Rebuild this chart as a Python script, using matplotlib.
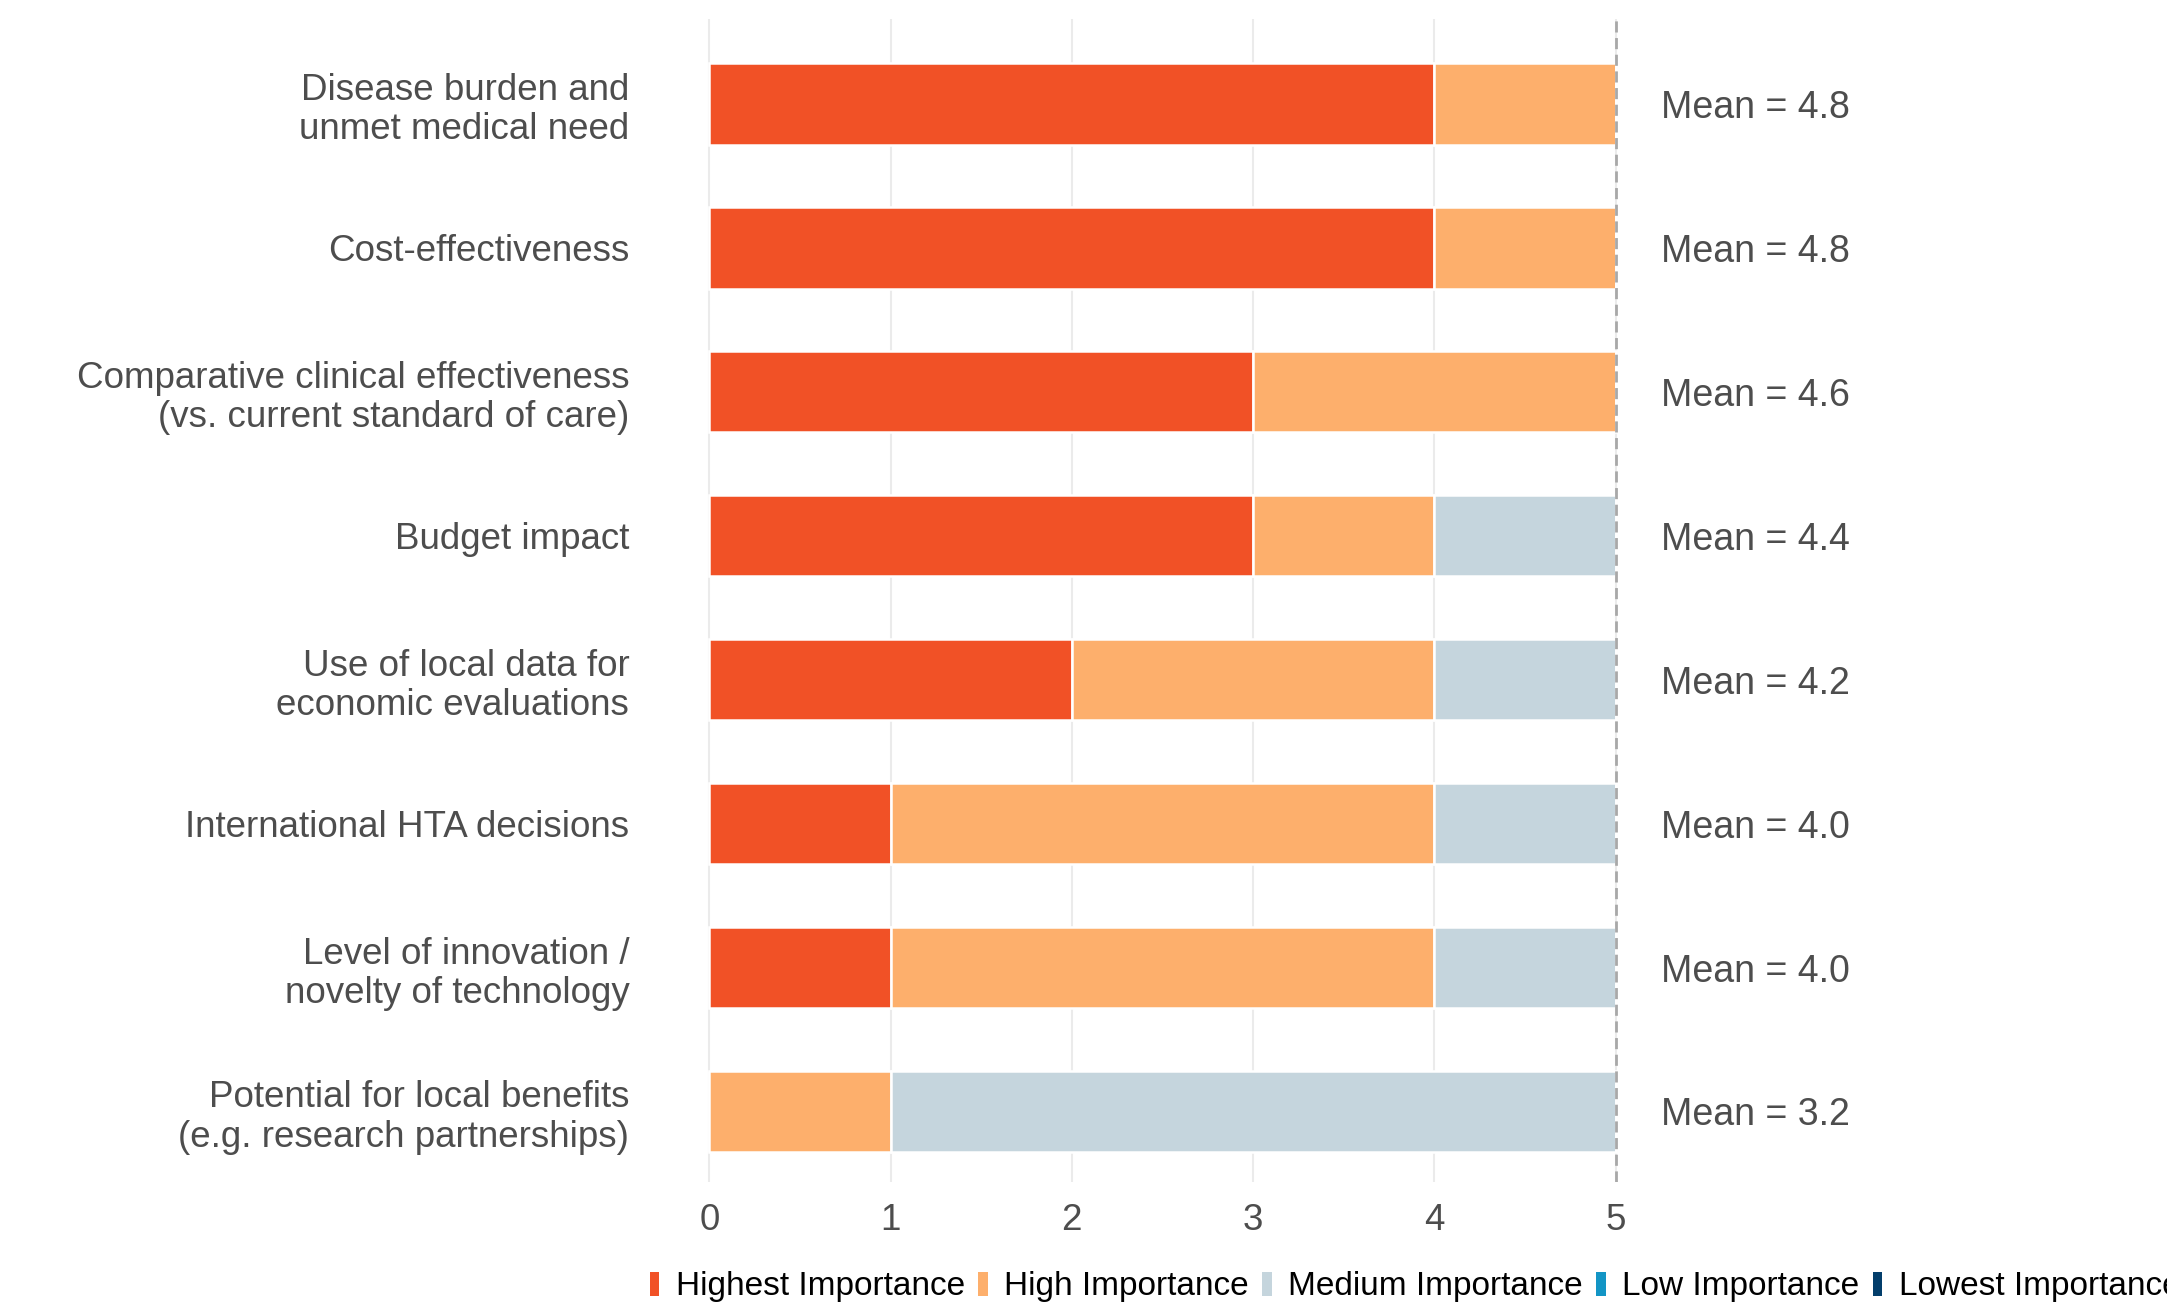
import numpy as np
import matplotlib
matplotlib.use('Agg')
import matplotlib.pyplot as plt
from matplotlib.patches import Rectangle

plt.rcParams['font.family'] = ['Liberation Sans', 'DejaVu Sans']

categories = [
    'Disease burden and\nunmet medical need',
    'Cost-effectiveness',
    'Comparative clinical effectiveness\n(vs. current standard of care)',
    'Budget impact',
    'Use of local data for\neconomic evaluations',
    'International HTA decisions',
    'Level of innovation /\nnovelty of technology',
    'Potential for local benefits\n(e.g. research partnerships)',
]
levels = ['Highest Importance', 'High Importance', 'Medium Importance',
          'Low Importance', 'Lowest Importance']
colors = ['#F15126', '#FDAF6C', '#C5D5DD', '#1395C5', '#033E6B']

highest = [4, 4, 3, 3, 2, 1, 1, 0]
high = [1, 1, 2, 1, 2, 3, 3, 1]
medium = [0, 0, 0, 1, 1, 1, 1, 4]
low = [0, 0, 0, 0, 0, 0, 0, 0]
lowest = [0, 0, 0, 0, 0, 0, 0, 0]
means = [4.8, 4.8, 4.6, 4.4, 4.2, 4.0, 4.0, 3.2]

series = [highest, high, medium, low, lowest]

W, H = 2167, 1309
fig = plt.figure(figsize=(W / 100, H / 100), dpi=100)
ax = fig.add_axes([664 / W, 1 - 1182 / H, 997 / W, 1163 / H])

y = np.arange(len(categories))
left = np.zeros(len(categories))
for vals, col in zip(series, colors):
    vals = np.array(vals, dtype=float)
    ax.barh(y, vals, left=left, height=0.565, color=col, edgecolor='white',
            linewidth=1.8, zorder=2)
    left += vals

ax.set_xlim(-0.25, 5.25)
ax.set_ylim(7.49, -0.59)
ax.set_xticks(range(6))
ax.set_yticks(y)
ax.set_yticklabels(categories, ha='right', linespacing=1.15)
ax.tick_params(axis='y', length=0, pad=25, labelsize=26.5, labelcolor='#4D4D4D')
ax.tick_params(axis='x', length=0, pad=15, labelsize=26.5, labelcolor='#4D4D4D')
ax.grid(axis='x', color='#EBEBEB', linewidth=1.5, zorder=0)
ax.grid(axis='y', visible=False)
for s in ax.spines.values():
    s.set_visible(False)
ax.axvline(5, color='#A8A8A8', linewidth=2, linestyle=(0, (4, 2)), zorder=3)

for yi, m in zip(y, means):
    ax.text(5.25, yi, 'Mean = %.1f' % m, ha='left', va='center_baseline',
            fontsize=27, color='#4D4D4D', clip_on=False)

handles = [Rectangle((0, 0), 1, 1, facecolor=c, edgecolor='none') for c in colors]
fig.legend(handles, levels, loc='center left', ncol=5,
           bbox_to_anchor=(650 / W, 1 - 1287 / H), frameon=False, fontsize=24,
           handlelength=0.28, handleheight=0.75, handletextpad=0.5,
           columnspacing=0.4, borderpad=0, borderaxespad=0)

fig.savefig('out.png', dpi=100)
